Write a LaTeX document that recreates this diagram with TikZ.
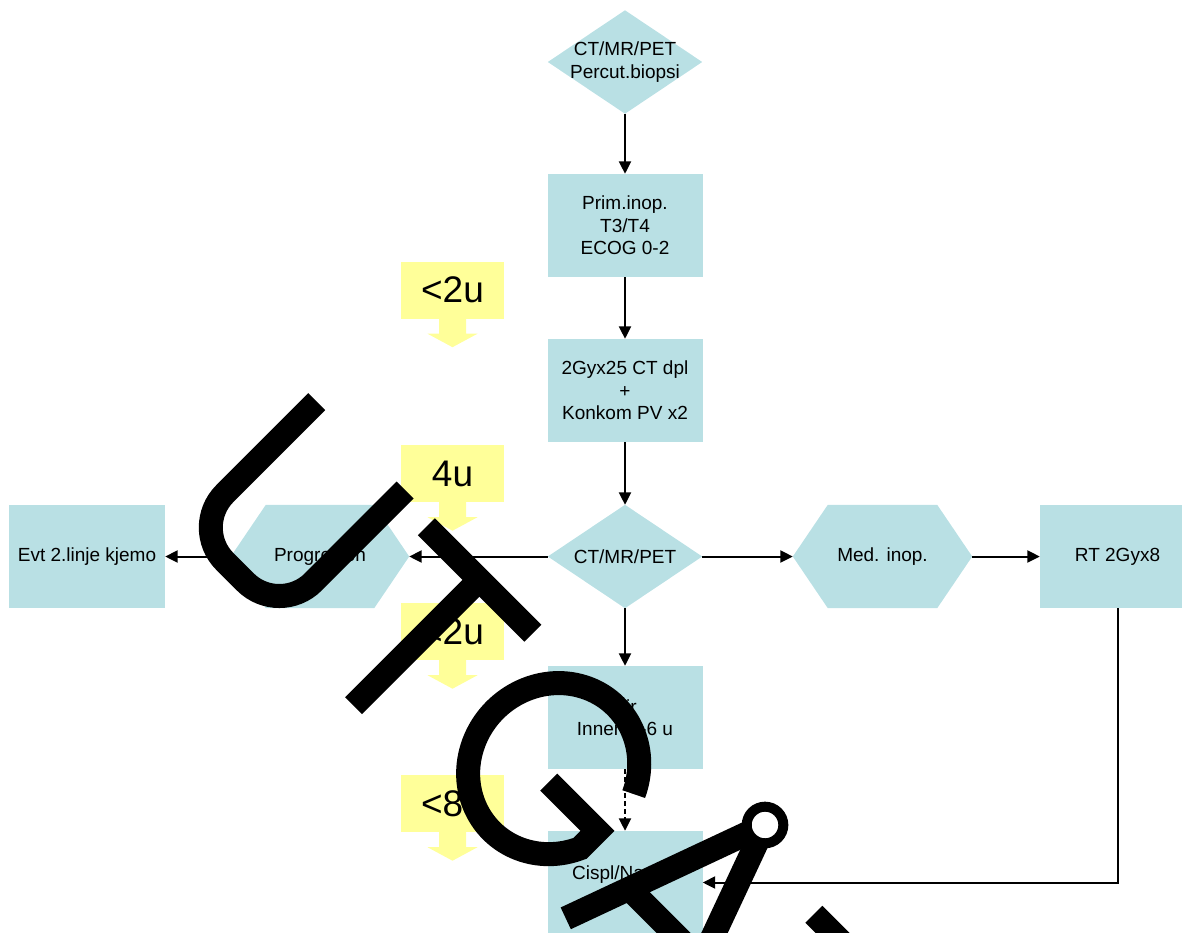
\documentclass[tikz,border=0pt]{standalone}
\usepackage{fontspec}
\setmainfont{Liberation Sans}
\usetikzlibrary{arrows.meta,calc,backgrounds}
\definecolor{boxblue}{RGB}{185,224,228}
\definecolor{noteyellow}{RGB}{255,255,153}

\begin{document}
\begin{tikzpicture}[x=1pt,y=-1pt,
  every node/.style={font=\fontsize{19}{22.5}\selectfont, align=center, inner sep=0pt},
  boxnode/.style={rectangle, fill=boxblue, minimum width=155pt, minimum height=103pt},
  shapeframe/.style={rectangle, minimum width=#1, minimum height=103pt},
  flow/.style={line width=2pt, -{Triangle[length=12.5pt,width=12pt]}},
  note/.style={rectangle, fill=noteyellow, minimum width=103pt, minimum height=57pt,
    font=\fontsize{37}{40}\selectfont},
  stamp/.style={line width=24pt, line join=miter}
]
\useasboundingbox (0,0) rectangle (1182,932);
\clip (0,0) rectangle (1182,932);

% ---------- flow chart nodes ----------
\node[shapeframe=154pt] (scan) at (625,62) {CT/MR/PET\\Percut.biopsi};
\node[boxnode] (inop) at (625,225.5) {Prim.inop.\\T3/T4\\ECOG 0-2};
\node[boxnode] (crt) at (625,390.5) {2Gyx25 CT dpl\\+\\Konkom PV x2};
\node[shapeframe=154pt] (eval) at (625,556.5) {CT/MR/PET};
\node[shapeframe=178pt] (prog) at (320,556.5) {Progresjon};
\node[boxnode, minimum width=156pt] (evt) at (87,556.5) {Evt 2.linje kjemo};
\node[shapeframe=179pt] (med) at (882.5,556.5) {Med. inop.};
\node[boxnode] (rt8) at (1117.5,556.5) {RT 2Gyx8};
\node[boxnode] (kir) at (625,717.5) {Kir\\Innen 4-6 u};
\node[boxnode] (cis) at (625,882.5) {};
\node[anchor=base west] (cistxt) at (572,879) {Cispl/Nav};

% diamond and hexagon fills behind their labels
\begin{pgfonlayer}{background}
  \foreach \d in {scan,eval}
    \fill[boxblue] (\d.north) -- (\d.east) -- (\d.south) -- (\d.west) -- cycle;
  \foreach \h in {prog,med}
    \fill[boxblue] ($(\h.north west)+(35,0)$) -- ($(\h.north east)+(-35,0)$) -- (\h.east)
      -- ($(\h.south east)+(-35,0)$) -- ($(\h.south west)+(35,0)$) -- (\h.west) -- cycle;
\end{pgfonlayer}

% ---------- time notes ----------
\node[note] (wk1) at (452.5,290) {<2u};
\node[note] (wk2) at (452.5,473.5) {4u};
\node[note] (wk3) at (452.5,631.5) {<2u};
\node[note] (wk4) at (452.5,803.5) {<8u};
\foreach \n in {wk1,wk2,wk3,wk4}
  \fill[noteyellow] ($(\n.south)+(-13.5,-1)$) -- ($(\n.south)+(-13.5,15)$) -- ($(\n.south)+(-25,15)$)
    -- ($(\n.south)+(0,28.5)$) -- ($(\n.south)+(25,15)$) -- ($(\n.south)+(13.5,15)$)
    -- ($(\n.south)+(13.5,-1)$) -- cycle;

% ---------- connectors ----------
\draw[flow] (scan.south) -- (inop.north);
\draw[flow] (inop.south) -- (crt.north);
\draw[flow] (crt.south) -- (eval.north);
\draw[flow] (eval.west) -- (prog.east);
\draw[flow] (prog.west) -- (evt.east);
\draw[flow] (eval.east) -- (med.west);
\draw[flow] (med.east) -- (rt8.west);
\draw[flow] (eval.south) -- (kir.north);
\draw[flow, dash pattern=on 5pt off 3pt] (kir.south) -- (cis.north);
\draw[flow] (rt8.south) |- (cis.east);

% ---------- UTGÅTT stamp, written along the diagonal ----------
\begin{scope}[x={(0.70711pt,-0.70711pt)}, y={(0.70711pt,0.70711pt)}, stamp]
  % U
  \draw[rounded corners=48pt] (508,-60.1) -- (508,-238) -- (633,-238) -- (633,-60.1);
  % T
  \draw (674,-71) -- (824.5,-71);
  \draw (749,-71) -- (749,-249);
  % G
  \draw (1009.6,-113.4) arc[start angle=26, end angle=334.6, x radius=83, y radius=88]
    -- (1010,-165) -- (941,-165);
  % A with ring
  \draw (1049.4,-249.3) -- (1124.3,-42.4);
  \draw (1199.3,-249.3) -- (1124.3,-42.4);
  \draw (1073,-183.4) -- (1175.4,-183.4);
  \draw[line width=10pt, fill=white] (1124.3,-42.4) circle[radius=18.3];
  % T
  \draw (1222,-71) -- (1372.5,-71);
  \draw (1297,-71) -- (1297,-249);
  % T
  \draw (1382,-71) -- (1532.5,-71);
  \draw (1457,-71) -- (1457,-249);
\end{scope}
\end{tikzpicture}
\end{document}
